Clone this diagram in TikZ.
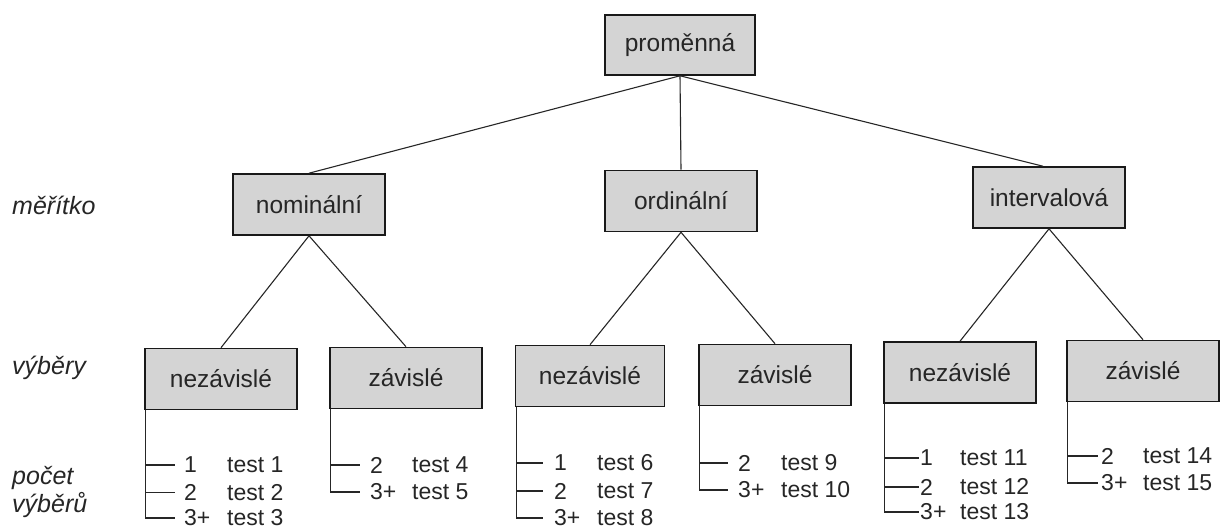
\documentclass[tikz,border=0pt]{standalone}
\usepackage{fontspec}
\setmainfont{Liberation Sans}
\begin{document}
\begin{tikzpicture}[x=1pt,y=-1pt,
  box/.style={draw=black!90, line width=1.6pt, fill=black!17, minimum width=152pt, minimum height=61pt, inner sep=0pt, font=\fontsize{24.5}{28}\selectfont, text=black!85},
  conn/.style={draw=black!85, line width=1.1pt},
  lbl/.style={anchor=west, inner sep=0pt, font=\fontsize{25}{29}\selectfont\itshape, text=black!85},
  num/.style={anchor=west, inner sep=0pt, font=\fontsize{23}{27}\selectfont, text=black!85},
]
\useasboundingbox (0,0) rectangle (1222,529);
% boxes
\node[box, minimum width=150pt, minimum height=60pt] (prom) at (680,45) {proměnná};
\node[box] (nom) at (309,204.5) {nominální};
\node[box] (ord) at (681,201) {ordinální};
\node[box] (int) at (1049,197.5) {intervalová};
\node[box] (n1) at (221,379) {nezávislé};
\node[box] (z1) at (406,378) {závislé};
\node[box, minimum width=149pt] (n2) at (590,376) {nezávislé};
\node[box] (z2) at (775,375) {závislé};
\node[box] (n3) at (960,372.5) {nezávislé};
\node[box] (z3) at (1143,371) {závislé};
% tree connectors
\draw[conn] (prom.south) -- (nom.north);
\draw[conn] (prom.south) -- (ord.north);
\draw[conn] (prom.south) -- ([xshift=-6pt]int.north);
\draw[conn] (nom.south) -- (n1.north);
\draw[conn] (nom.south) -- (z1.north);
\draw[conn] (ord.south) -- (n2.north);
\draw[conn] (ord.south) -- (z2.north);
\draw[conn] (int.south) -- (n3.north);
\draw[conn] (int.south) -- (z3.north);
% left labels
\node[lbl] (l1) at (12,205) {měřítko};
\node[lbl] (l2) at (12,368) {výběry};
\node[lbl] (l3) at (12,478) {počet};
\node[lbl] (l4) at (12,505) {výběrů};
% ---- group n1
\coordinate (n1a) at (175,465);
\coordinate (n1b) at (175,492.5);
\coordinate (n1c) at (175,518);
\draw[conn] (n1.south west) ++(1.5pt,0) coordinate (n1s) -- (n1s |- n1c) -- (n1c);
\draw[conn] (n1s |- n1a) -- (n1a);
\draw[conn] (n1s |- n1b) -- (n1b);
\node[num] (n1a1) at (184,465) {1};
\node[num] (n1a2) at (227,465) {test 1};
\node[num] (n1b1) at (184,492.5) {2};
\node[num] (n1b2) at (227,492.5) {test 2};
\node[num] (n1c1) at (184,518) {3+};
\node[num] (n1c2) at (227,518) {test 3};
% ---- group z1
\coordinate (z1a) at (360,465);
\coordinate (z1b) at (360,492);
\draw[conn] (z1.south west) ++(1.5pt,0) coordinate (z1s) -- (z1s |- z1b) -- (z1b);
\draw[conn] (z1s |- z1a) -- (z1a);
\node[num] (z1a1) at (370,465) {2};
\node[num] (z1a2) at (412,465) {test 4};
\node[num] (z1b1) at (370,492) {3+};
\node[num] (z1b2) at (412,492) {test 5};
% ---- group n2
\coordinate (n2a) at (543,463);
\coordinate (n2b) at (543,491);
\coordinate (n2c) at (543,518);
\draw[conn] (n2.south west) ++(1.5pt,0) coordinate (n2s) -- (n2s |- n2c) -- (n2c);
\draw[conn] (n2s |- n2a) -- (n2a);
\draw[conn] (n2s |- n2b) -- (n2b);
\node[num] (n2a1) at (554,463) {1};
\node[num] (n2a2) at (597,463) {test 6};
\node[num] (n2b1) at (554,491) {2};
\node[num] (n2b2) at (597,491) {test 7};
\node[num] (n2c1) at (554,518) {3+};
\node[num] (n2c2) at (597,518) {test 8};
% ---- group z2
\coordinate (z2a) at (728,463);
\coordinate (z2b) at (728,490);
\draw[conn] (z2.south west) ++(1.5pt,0) coordinate (z2s) -- (z2s |- z2b) -- (z2b);
\draw[conn] (z2s |- z2a) -- (z2a);
\node[num] (z2a1) at (738,463) {2};
\node[num] (z2a2) at (781,463) {test 9};
\node[num] (z2b1) at (738,490) {3+};
\node[num] (z2b2) at (781,490) {test 10};
% ---- group n3
\coordinate (n3a) at (919,458);
\coordinate (n3b) at (919,487);
\coordinate (n3c) at (919,512);
\draw[conn] (n3.south west) ++(1.5pt,0) coordinate (n3s) -- (n3s |- n3c) -- (n3c);
\draw[conn] (n3s |- n3a) -- (n3a);
\draw[conn] (n3s |- n3b) -- (n3b);
\node[num] (n3a1) at (920,458) {1};
\node[num] (n3a2) at (960,458) {test 11};
\node[num] (n3b1) at (920,487) {2};
\node[num] (n3b2) at (960,487) {test 12};
\node[num] (n3c1) at (920,512) {3+};
\node[num] (n3c2) at (960,512) {test 13};
% ---- group z3
\coordinate (z3a) at (1098,456);
\coordinate (z3b) at (1098,483);
\draw[conn] (z3.south west) ++(1.5pt,0) coordinate (z3s) -- (z3s |- z3b) -- (z3b);
\draw[conn] (z3s |- z3a) -- (z3a);
\node[num] (z3a1) at (1101,456) {2};
\node[num] (z3a2) at (1143,456) {test 14};
\node[num] (z3b1) at (1101,483) {3+};
\node[num] (z3b2) at (1143,483) {test 15};
\end{tikzpicture}
\end{document}
